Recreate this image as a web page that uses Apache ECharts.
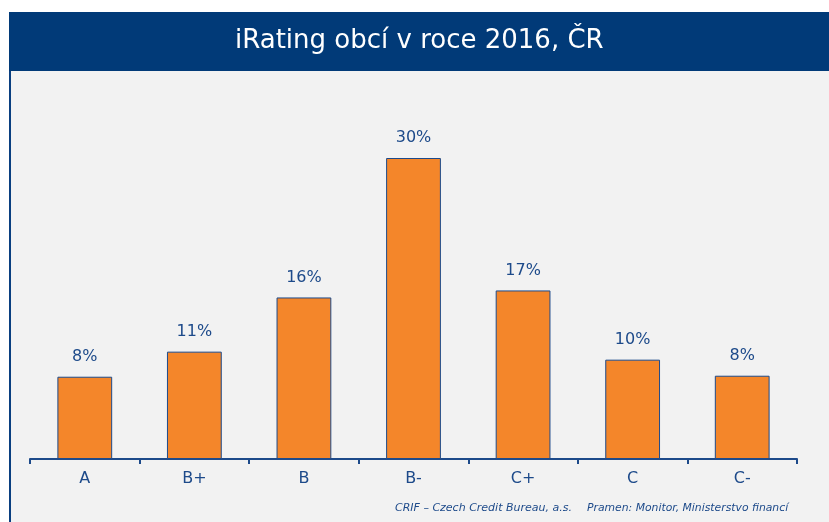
<!DOCTYPE html>
<html><head><meta charset="utf-8">
<script src="https://cdn.jsdelivr.net/npm/echarts@6/dist/echarts.min.js"></script>
<style>html,body{margin:0;padding:0;background:#fff}#c{width:829px;height:522px}</style>
</head><body><div id="c"></div>
<script>
var categories = ['A','B+','B','B-','C+','C','C-'];
var values = [8.2, 10.7, 16.1, 30.0, 16.8, 9.9, 8.3];
var titleText = 'iRating obcí v roce 2016, ČR';
var footer1 = 'CRIF – Czech Credit Bureau, a.s.';
var footer2 = 'Pramen: Monitor, Ministerstvo financí';
var blue = '#1d4a8a';
var chart = echarts.init(document.getElementById('c'));
chart.setOption({
  animation: false,
  backgroundColor: '#ffffff',
  graphic: [
    {type:'rect', z:-10, shape:{x:9,y:12,width:820,height:510}, style:{fill:'#f2f2f2'}},
    {type:'rect', z:-5, shape:{x:9,y:12,width:820,height:59}, style:{fill:'#013a78'}},
    {type:'rect', z:-5, shape:{x:9,y:71,width:2,height:451}, style:{fill:'#0a3f80'}},
    {type:'text', left:235, top:28, style:{text:titleText, fill:'#ffffff', font:'26px "DejaVu Sans"'}},
    {type:'text', left:395, top:503, style:{text:footer1, fill:blue, font:'italic 11px "DejaVu Sans"'}},
    {type:'text', left:587, top:503, style:{text:footer2, fill:blue, font:'italic 10.8px "DejaVu Sans"'}}
  ],
  grid: {left:30, right:32, top:158, bottom:63},
  xAxis: {
    type:'category', data:categories,
    axisLine:{lineStyle:{color:blue, width:2}},
    axisTick:{show:true, length:5, lineStyle:{color:blue, width:2}},
    axisLabel:{color:blue, fontSize:16, fontFamily:'DejaVu Sans', margin:12}
  },
  yAxis: {type:'value', min:0, max:30, show:false, splitLine:{show:false}},
  series: [{
    type:'bar', data:values, barWidth:'50%',
    itemStyle:{color:'#f4862a', borderColor:'#1d4a8a', borderWidth:1},
    label:{show:true, position:'top', distance:12, color:blue, fontSize:16, fontFamily:'DejaVu Sans',
      formatter:function(p){return Math.round(p.value)+'%';}}
  }]
});
</script></body></html>
